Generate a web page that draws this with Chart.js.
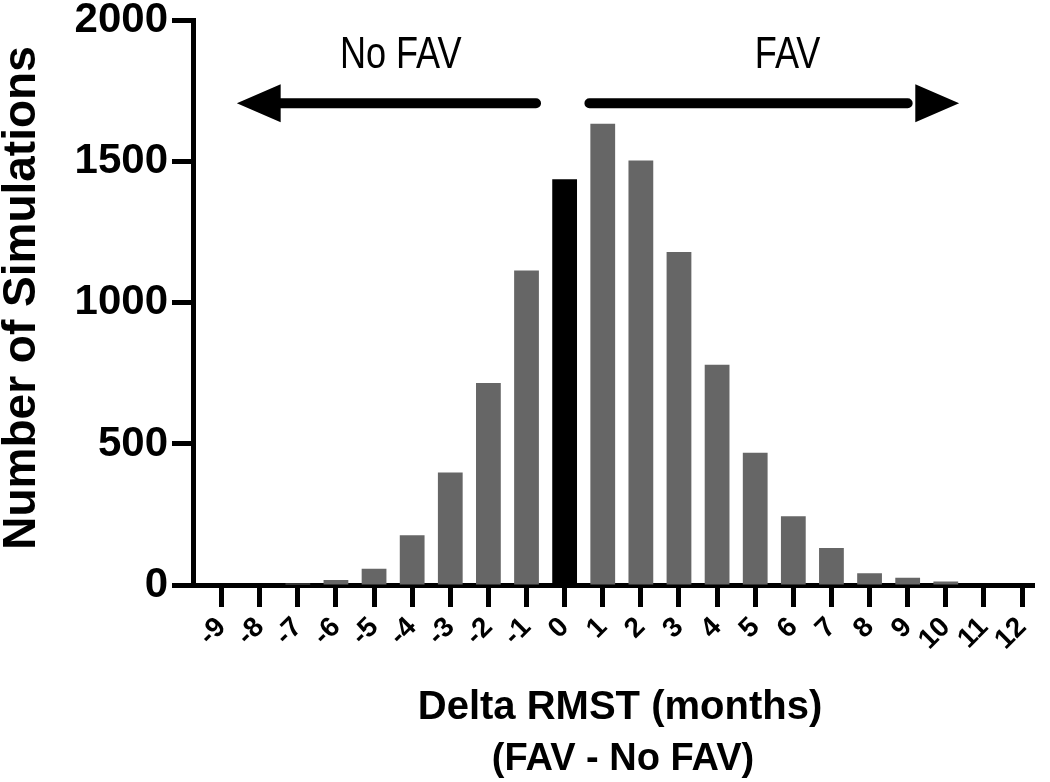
<!DOCTYPE html>
<html>
<head>
<meta charset="utf-8">
<script src="https://cdn.jsdelivr.net/npm/chart.js@4.4.1/dist/chart.umd.min.js"></script>
<style>
html, body { margin: 0; padding: 0; background: #fff; }
</style>
</head>
<body>
<canvas id="chart1" width="1050" height="782"></canvas>
<script>
var deltas = [-9, -8, -7, -6, -5, -4, -3, -2, -1, 0, 1, 2, 3, 4, 5, 6, 7, 8, 9, 10, 11, 12];
var counts = [0, 0, 5, 18, 58, 176, 399, 716, 1115, 1438, 1635, 1505, 1180, 781, 469, 244, 131, 42, 26, 12, 0, 0];
var yTicks = [0, 500, 1000, 1500, 2000];
var sideLabels = ['No FAV', 'FAV'];

var FONT = '"Liberation Sans", Arial, sans-serif';
var GREY = '#666666';

// bar at zero is black, the rest grey
var barColors = deltas.map(d => d === 0 ? '#000000' : GREY);

var textPlugin = {
    id: 'texts',
    afterDraw(chart) {
        var ctx = chart.ctx;
        var x = chart.scales.x, y = chart.scales.y;
        ctx.save();
        ctx.fillStyle = '#000';
        ctx.textAlign = 'center';
        ctx.textBaseline = 'middle';

        // axis titles
        ctx.font = 'bold 40px ' + FONT;
        ctx.fillText('Delta RMST (months)', 620, 708);
        ctx.font = 'bold 38px ' + FONT;
        ctx.fillText('(FAV - No FAV)', 623, 760);

        ctx.save();
        ctx.translate(22, 298);
        ctx.rotate(-Math.PI / 2);
        ctx.font = 'bold 46px ' + FONT;
        ctx.fillText('Number of Simulations', 0, 0);
        ctx.restore();

        // direction labels, narrow type
        ctx.font = '44px ' + FONT;
        var ty = y.getPixelForValue(1877);
        [[sideLabels[0], -4.3], [sideLabels[1], 5.85]].forEach(function (l) {
            ctx.save();
            ctx.translate(x.getPixelForValue(l[1]), ty);
            ctx.scale(0.82, 1);
            ctx.fillText(l[0], 0, 0);
            ctx.restore();
        });

        // arrows
        var ay = y.getPixelForValue(1708);
        ctx.strokeStyle = '#000';
        ctx.lineWidth = 10;
        ctx.lineCap = 'round';
        ctx.beginPath();
        ctx.moveTo(x.getPixelForValue(-0.75), ay);
        ctx.lineTo(x.getPixelForValue(-7.6), ay);
        ctx.moveTo(x.getPixelForValue(0.65), ay);
        ctx.lineTo(x.getPixelForValue(9.0), ay);
        ctx.stroke();

        ctx.beginPath();
        ctx.moveTo(x.getPixelForValue(-8.6), ay);
        ctx.lineTo(x.getPixelForValue(-7.45), ay - 19);
        ctx.lineTo(x.getPixelForValue(-7.45), ay + 19);
        ctx.closePath();
        ctx.moveTo(x.getPixelForValue(10.35), ay);
        ctx.lineTo(x.getPixelForValue(9.2), ay - 19);
        ctx.lineTo(x.getPixelForValue(9.2), ay + 19);
        ctx.closePath();
        ctx.fill();
        ctx.restore();
    }
};

var ctx1 = document.getElementById('chart1').getContext('2d');

var chart1 = new Chart(ctx1, {
    type: 'bar',
    data: {
        datasets: [{
            data: deltas.map((d, i) => ({ x: d, y: counts[i] })),
            backgroundColor: barColors,
            borderWidth: 0,
            categoryPercentage: 1,
            barPercentage: 0.65
        }]
    },
    options: {
        responsive: false,
        animation: false,
        devicePixelRatio: 1,
        layout: { padding: { top: 17, right: 15, left: 0, bottom: 0 } },
        plugins: {
            legend: { display: false },
            tooltip: { enabled: false }
        },
        scales: {
            x: {
                type: 'linear',
                offset: false,
                min: -9.75,
                max: 12.32,
                z: 1,
                afterBuildTicks: s => { s.ticks = deltas.map(v => ({ value: v })); },
                afterFit: s => { s.height = 197; },
                border: { display: true, color: '#000', width: 5 },
                grid: { offset: false, drawOnChartArea: false, drawTicks: true, tickLength: 22, tickWidth: 5, tickColor: '#000' },
                ticks: {
                    color: '#000',
                    autoSkip: false,
                    minRotation: 45,
                    maxRotation: 45,
                    padding: 4,
                    font: { family: FONT, size: 28, weight: 'bold' }
                }
            },
            y: {
                min: 0,
                max: 2000,
                z: 1,
                afterBuildTicks: s => { s.ticks = yTicks.map(v => ({ value: v })); },
                afterFit: s => { s.width = 193; },
                border: { display: true, color: '#000', width: 5 },
                grid: { drawOnChartArea: false, drawTicks: true, tickLength: 21, tickWidth: 5, tickColor: '#000' },
                ticks: {
                    color: '#000',
                    padding: 4,
                    callback: v => String(v),
                    font: { family: FONT, size: 42, weight: 'bold', lineHeight: 0.8 }
                }
            }
        }
    },
    plugins: [textPlugin]
});
</script>
</body>
</html>
